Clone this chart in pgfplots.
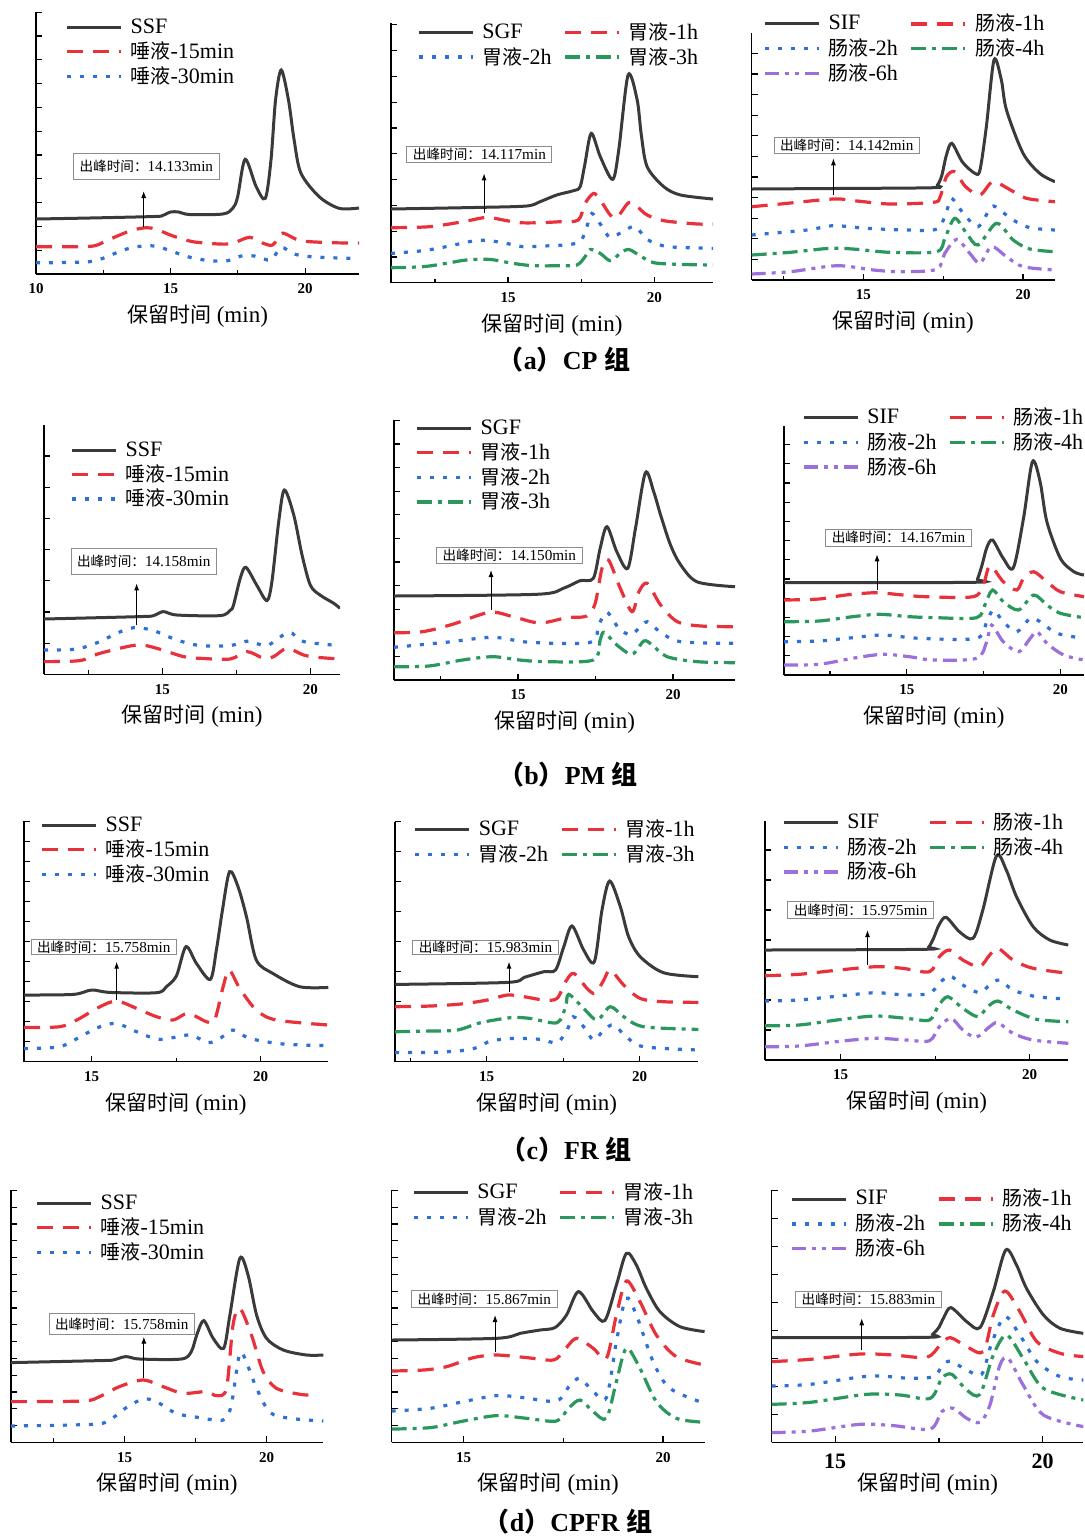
\documentclass[border=0pt]{standalone}
\usepackage{fontspec}
\setmainfont{Liberation Serif}
\newfontfamily\cjk{Noto Sans CJK SC}
\usepackage{pgfplots}
\pgfplotsset{compat=1.18}
\usetikzlibrary{arrows.meta}

\definecolor{c0}{HTML}{3A3A3A}
\definecolor{c1}{HTML}{E8313A}
\definecolor{c2}{HTML}{2F6FD8}
\definecolor{c3}{HTML}{2A975C}
\definecolor{c4}{HTML}{9B6FDC}

\newcommand\pk[1]{{\fontsize{6.8}{8}\selectfont\cjk 出峰时间：}#1min}
\newcommand\ty{{\fontsize{10}{12}\selectfont\cjk 唾液}}
\newcommand\wy{{\fontsize{10}{12}\selectfont\cjk 胃液}}
\newcommand\cy{{\fontsize{10}{12}\selectfont\cjk 肠液}}

\pgfplotsset{
  panel/.style={
    scale only axis, axis lines*=left, ymin=0, clip=true,
    axis line style={line width=0.7pt, black},
    tick align=inside, tick style={black, line width=0.6pt},
    major tick length=3pt, minor tick length=2pt,
    xtick={10,15,20}, minor xtick={12.5,17.5},
    yticklabels={},
    xticklabel style={font=\bfseries\fontsize{7.5}{8}\selectfont, yshift=-1.4pt},
    /pgf/number format/assume math mode=true,
    xlabel={{\fontsize{10.5}{12}\selectfont\cjk 保留时间} (min)},
    xlabel style={font=\fontsize{11.5}{12}\selectfont, at={(axis description cs:0.5,0)}, anchor=center, yshift=-21pt},
    legend style={draw=none, fill=none, font=\fontsize{11}{12}\selectfont, anchor=north west,
      inner sep=0pt, row sep=0.5pt, nodes={inner sep=1pt},
      /tikz/every odd column/.append style={column sep=3pt},
      /tikz/every even column/.append style={column sep=5pt}},
    legend cell align=left,
    legend image code/.code={\draw[##1] (0pt,0pt) -- (27pt,0pt);},
  },
  s0/.style={color=c0, line width=1.5pt, solid, smooth},
  s1/.style={color=c1, line width=1.6pt, dash pattern=on 8pt off 5pt, smooth},
  s2/.style={color=c2, line width=1.6pt, dash pattern=on 2pt off 4.5pt, smooth},
  s3/.style={color=c3, line width=1.6pt, dash pattern=on 7.5pt off 3pt on 2pt off 3pt, smooth},
  s4/.style={color=c4, line width=1.6pt, dash pattern=on 7pt off 3pt on 2pt off 3pt on 2pt off 3pt, smooth},
}
\tikzset{
  pbox/.style={draw=black!45, line width=0.5pt, fill=white, font=\fontsize{7.6}{8}\selectfont, inner xsep=3pt, inner ysep=1pt},
  parrow/.style={-{Latex[length=3.5pt,width=2.5pt]}, line width=0.5pt, black},
}

\begin{document}
\begin{tikzpicture}
\useasboundingbox (0,0) rectangle (542pt,-769pt);

% ---------------- (a) CP ----------------
\begin{axis}[panel, at={(18pt,-137pt)}, anchor=south west, width=161.5pt, height=131pt,
  xmin=10, xmax=22, ymax=262, ytick distance=23.8,
  legend style={at={(0.09,0.983)}}]
\addplot[s0] coordinates {(10,55) (12,56) (14.4,57.5) (14.7,58.5) (15,62) (15.3,62) (15.7,59.5) (16.94,60) (17.31,65.7) (17.49,77) (17.77,114.7) (18.18,87.3) (18.52,75.7) (18.73,114) (18.9,174) (19.11,204) (19.38,174) (19.59,134) (19.84,101) (20.52,77.3) (21.26,65.7) (22,66)};
\addplot[s1] coordinates {(10,27.3) (11.57,27.3) (12.19,28.3) (12.62,33.3) (13.11,39) (13.6,44) (14.1,46.3) (14.47,44.7) (15.09,38) (15.83,32.3) (16.81,30) (17.31,30.7) (17.93,36.7) (18.42,31) (18.79,29) (19.1,40) (19.28,40) (19.84,33.3) (21,31.3) (22,31)};
\addplot[s2] coordinates {(10,11.3) (10.64,11.3) (11.98,12.3) (12.59,16.7) (13.17,23.3) (13.75,27.3) (14.41,28) (14.99,23.3) (15.64,17.3) (16.44,13.3) (17.12,13.3) (17.62,18) (18.11,18) (18.73,14) (19.1,26.7) (19.59,20) (20.21,17.3) (21.57,15.7) (22,15.7)};
\legend{SSF, \ty-15min, \ty-30min}
\node[pbox, inner ysep=3.5pt] at (axis cs:14.1,107.5) {\pk{14.133}};
\draw[parrow] (axis cs:14.0,47) -- (axis cs:14.0,83);
\end{axis}

\begin{axis}[panel, at={(195.5pt,-141.35pt)}, anchor=south west, width=161pt, height=129.85pt,
  xmin=11, xmax=22, ymax=259.7, ytick distance=25.8,
  legend columns=2, legend style={at={(0.08,1.012)}}]
\addplot[s0] coordinates {(11,73.7) (14,75.3) (15.63,76.7) (16.09,81) (16.66,87.7) (17.23,92) (17.46,96) (17.62,118) (17.84,149.3) (18.15,126) (18.57,103.3) (18.78,132.7) (19.1,207.7) (19.41,182.7) (19.55,148) (19.75,116) (20.32,96) (20.89,87.7) (22,83.7)};
\addplot[s1] coordinates {(11,55) (12.31,56) (13.46,61) (14.26,65.3) (14.83,62.7) (15.4,60) (16.09,60) (16.77,61) (17.4,62.7) (17.63,79.3) (17.92,89.3) (18.15,82.7) (18.49,67.7) (18.72,65.3) (19.12,80) (19.41,76) (19.75,67.7) (20.32,62) (21.46,58.7) (22,58.7)};
\addplot[s2] coordinates {(11,29.3) (12.08,32) (12.88,36) (13.86,42) (14.37,42) (14.94,39.3) (15.51,36) (16.2,36.7) (16.89,37.7) (17.46,41) (17.69,56) (17.86,69.3) (18.15,58.7) (18.49,45.3) (19,52.7) (19.35,56) (19.75,43.3) (20.32,36.7) (20.89,35.3) (22,34.3)};
\addplot[s3] coordinates {(11,15) (12.08,16) (12.88,19.3) (13.57,22.7) (14.37,23.3) (15.17,19.3) (15.86,17) (16.77,17) (17.35,17.7) (17.63,26) (17.8,33.3) (18.15,29.3) (18.49,22) (18.83,29.3) (19.12,33.3) (19.52,26.7) (19.98,20) (20.89,18.3) (22,17.7)};
\legend{SGF, \wy-1h, \wy-2h, \wy-3h}
\node[pbox] at (axis cs:14.02,128.2) {\pk{14.117}};
\draw[parrow] (axis cs:14.18,69.3) -- (axis cs:14.18,109.3);
\end{axis}

\begin{axis}[panel, at={(375.85pt,-140pt)}, anchor=south west, width=151.65pt, height=123.35pt,
  xmin=11.5, xmax=21, ymax=246.7, ytick distance=20.6,
  legend columns=2, legend style={at={(0.037,1.088)}}]
\addplot[s0] coordinates {(11.5,91) (14,91.5) (17.19,92.3) (17.32,95) (17.45,104) (17.6,125) (17.77,136.7) (18.1,118) (18.49,106.7) (18.65,110) (18.85,153.3) (19.09,220) (19.32,200) (19.48,170) (20,126.7) (20.52,106.7) (21,98.3)};
\addplot[s1] coordinates {(11.5,73.3) (12.4,76) (14.06,81) (14.8,79) (15.83,76) (17.19,77.7) (17.4,83) (17.6,103.3) (17.86,108.3) (18.2,93.3) (18.65,85) (19.05,98.3) (19.57,90.7) (20.1,81.7) (21,78.3)};
\addplot[s2] coordinates {(11.5,45) (13.23,50) (14.06,54.3) (15.1,51.7) (16.35,50) (17.3,51) (17.6,68.3) (17.76,81.7) (18.13,66.7) (18.59,53.3) (19.01,73.3) (19.27,70) (19.69,60) (20.21,52.3) (21,50)};
\addplot[s3] coordinates {(11.5,25) (12.71,27.7) (13.96,31.7) (14.79,30.7) (15.83,27.7) (17.29,28.3) (17.55,41.7) (17.86,61.7) (18.23,46.7) (18.59,35) (19.17,56.7) (19.69,40) (20.21,31) (21,28.3)};
\addplot[s4] coordinates {(11.5,6) (12.71,8.3) (14.17,14.3) (15.31,10) (16.15,8.3) (17.29,10.7) (17.55,26.7) (17.92,40.7) (18.33,26.7) (18.65,16.7) (19.01,33.3) (19.48,23.3) (20,13.3) (21,10)};
\legend{SIF, \cy-1h, \cy-2h, \cy-4h, \cy-6h}
\node[pbox] at (axis cs:14.48,134.7) {\pk{14.142}};
\draw[parrow] (axis cs:14.06,85) -- (axis cs:14.06,121.7);
\end{axis}

\node[font=\bfseries\fontsize{13}{14}\selectfont] at (282pt,-180pt) {{\cjk （}a{\cjk ）}CP {\cjk 组}};

% ---------------- (b) PM ----------------
\begin{axis}[panel, at={(22pt,-337.15pt)}, anchor=south west, width=148pt, height=124.65pt,
  xmin=11, xmax=21, ymax=249.3, ytick distance=31.2,
  legend image code/.code={\draw[#1] (0pt,0pt) -- (22pt,0pt);},
  legend style={at={(0.088,0.943)}}]
\addplot[s0] coordinates {(11,55.3) (14.24,57.7) (14.7,58.7) (15.03,62.7) (15.49,59.3) (16.95,58.7) (17.29,64) (17.4,69) (17.63,96) (17.82,107) (18.19,89) (18.53,73.7) (18.7,92.7) (18.93,152.7) (19.12,184.3) (19.44,159) (19.72,119) (20,89) (20.34,79) (20.79,71) (21,66)};
\addplot[s1] coordinates {(11,12.7) (12.21,13.7) (12.89,21) (14.13,29.3) (14.81,26) (15.71,17.7) (16.28,16) (17.29,15.3) (17.86,22.7) (18.42,16) (18.76,17.7) (19.21,26) (19.77,19.3) (20.23,17) (21,15.3)};
\addplot[s2] coordinates {(11,24.3) (12.1,25.3) (12.89,32.7) (13.45,41) (14.05,46.7) (14.7,43.7) (15.49,34.3) (16.28,28.7) (17.29,28.7) (17.91,33.3) (18.53,28.7) (19.27,42) (19.77,32.7) (21,28.7)};
\legend{SSF, \ty-15min, \ty-30min}
\node[pbox, inner ysep=3.5pt] at (axis cs:14.37,113) {\pk{14.158}};
\draw[parrow] (axis cs:14.13,49.3) -- (axis cs:14.13,91);
\end{axis}

\begin{axis}[panel, at={(197pt,-340pt)}, anchor=south west, width=170.5pt, height=130pt,
  xmin=11, xmax=22, ymax=260, ytick distance=23.6,
  legend style={at={(0.062,1.01)}}]
\addplot[s0] coordinates {(11,84) (15.6,85.7) (16.46,91.7) (17,99.3) (17.43,101.7) (17.65,131.7) (17.87,153.3) (18.19,128) (18.54,111.7) (18.79,151.7) (19.11,207.3) (19.38,188) (19.6,165) (19.92,135) (20.25,115) (20.79,98) (22,93.3)};
\addplot[s1] coordinates {(11,47.3) (11.92,48.3) (12.89,55.7) (14.08,67.7) (14.84,63.3) (15.7,57) (16.57,62.3) (17.22,64) (17.49,76.7) (17.71,111.7) (17.92,120) (18.3,91.7) (18.68,68.3) (18.9,88.3) (19.17,96.7) (19.6,75) (20.14,58.3) (20.9,54) (22,53.3)};
\addplot[s2] coordinates {(11,32.7) (12.67,37.7) (14.19,42.7) (15.38,37.7) (17.33,37.7) (17.6,55) (17.87,67.7) (18.25,51.7) (18.62,45) (18.84,50) (19.17,58.3) (19.6,47.7) (20.25,38.3) (22,36.7)};
\addplot[s3] coordinates {(11,13.3) (12.13,14) (13.21,20) (14.19,23.3) (15.05,20) (15.92,18.3) (17.43,20) (17.65,40) (17.78,47.7) (18.19,35) (18.68,25.7) (19.06,39) (19.33,35) (19.81,23.3) (20.79,18.3) (22,17.3)};
\legend{SGF, \wy-1h, \wy-2h, \wy-3h}
\node[pbox] at (axis cs:14.72,124.7) {\pk{14.150}};
\draw[parrow] (axis cs:14.13,70) -- (axis cs:14.13,110);
\end{axis}

\begin{axis}[panel, at={(392pt,-337.5pt)}, anchor=south west, width=150pt, height=124.65pt,
  xmin=11, xmax=20.77, ymax=249.3, ytick distance=19.2,
  legend columns=2, legend style={at={(0.059,1.083)}}]
\addplot[s0] coordinates {(11,92.3) (17.16,92.7) (17.3,96) (17.45,110) (17.6,127) (17.79,135) (18.14,116.7) (18.47,107.3) (18.8,156.7) (19.09,213.3) (19.34,193.3) (19.56,153.3) (20,116.7) (20.44,103.3) (20.77,100)};
\addplot[s1] coordinates {(11,75) (12.14,76) (13.01,80) (13.99,82.3) (14.87,80) (15.63,78.3) (17.16,78.3) (17.49,90) (17.71,109.3) (18.14,93.3) (18.58,85) (18.8,96.7) (19.13,103.3) (19.56,93.3) (20,83.3) (20.77,78.3)};
\addplot[s2] coordinates {(11,33.3) (12.14,34) (13.23,37.3) (14.21,40) (15.41,36.7) (17.27,36.7) (17.6,53.3) (17.82,65) (18.14,53.3) (18.58,43.3) (19.02,56.7) (19.34,53.3) (19.89,41.7) (20.77,36.7)};
\addplot[s3] coordinates {(11,53.3) (12.14,54) (13.23,58.3) (14.1,60.7) (15.09,58.3) (15.96,57.3) (17.27,57.3) (17.54,70) (17.79,85) (18.14,73.3) (18.64,65) (19.13,80) (19.56,70) (20,61.7) (20.77,57.3)};
\addplot[s4] coordinates {(11,10) (12.14,10.7) (13.23,16.7) (14.21,20.7) (15.09,18.3) (15.85,15) (17.27,16.7) (17.6,33.3) (17.76,50) (18.14,33.3) (18.64,23.3) (19.02,36.7) (19.24,43.3) (19.56,31.7) (20.11,20) (20.77,15)};
\legend{SIF, \cy-1h, \cy-2h, \cy-4h, \cy-6h}
\node[pbox] at (axis cs:14.73,137.2) {\pk{14.167}};
\draw[parrow] (axis cs:14.03,85) -- (axis cs:14.03,120.7);
\end{axis}

\node[font=\bfseries\fontsize{13}{14}\selectfont] at (284pt,-387.5pt) {{\cjk （}b{\cjk ）}PM {\cjk 组}};

% ---------------- (c) FR ----------------
\begin{axis}[panel, at={(12pt,-530.85pt)}, anchor=south west, width=152.15pt, height=120.5pt,
  xmin=13, xmax=22, ymax=241, ytick distance=20,
  legend style={at={(0.053,1.026)}}]
\addplot[s0] coordinates {(13,66.7) (14.46,67.3) (15,71.7) (15.54,69.3) (16.92,69) (17.21,75) (17.51,86) (17.79,115) (18.1,98.3) (18.51,82.3) (18.69,111.7) (18.87,151.7) (19.08,190) (19.33,175) (19.58,145) (19.87,101.7) (20.36,88.3) (21.15,75) (22,74.3)};
\addplot[s1] coordinates {(13,34.3) (14.06,35) (14.56,41.7) (15.25,55) (15.74,60.7) (16.33,53.3) (16.92,45) (17.41,41.7) (17.85,48.3) (18.4,40) (18.64,41.7) (18.89,75) (19.07,91.7) (19.38,73.3) (19.87,51.7) (20.46,41.7) (22,36.7)};
\addplot[s2] coordinates {(13,13.3) (14.06,15) (14.75,26.7) (15.25,35) (15.74,38.3) (16.33,30) (17.02,22.3) (17.9,26.7) (18.45,19) (18.84,24.3) (19.18,31.7) (19.68,23.3) (20.66,17.7) (22,16)};
\legend{SSF, \ty-15min, \ty-30min}
\node[pbox, inner ysep=0.5pt] at (axis cs:15.36,114.7) {\pk{15.758}};
\draw[parrow] (axis cs:15.74,61.7) -- (axis cs:15.74,100);
\end{axis}

\begin{axis}[panel, at={(197.5pt,-530.85pt)}, anchor=south west, width=151.65pt, height=120pt,
  xmin=12, xmax=21.92, ymax=240, ytick distance=30,
  legend columns=2, legend style={at={(0.06,1.02)}}]
\addplot[s0] coordinates {(12,77.3) (15.67,79.3) (16.22,84.3) (16.87,90) (17.25,91.7) (17.52,115) (17.79,135.7) (18.17,111.7) (18.52,100) (18.77,151.7) (19.02,180.7) (19.37,155) (19.64,125) (20.02,105) (20.78,89) (21.92,85)};
\addplot[s1] coordinates {(12,55) (13.17,55.7) (14.15,57.7) (15.02,61.7) (15.67,66.7) (16.22,65) (16.87,61.7) (17.3,63.3) (17.58,80) (17.85,88.3) (18.28,73.3) (18.55,68.3) (18.83,81.7) (19.04,91.7) (19.48,76.7) (20.02,63.3) (20.78,60) (21.92,59.3)};
\addplot[s2] coordinates {(12,9.3) (13.17,9.3) (14.15,11) (14.7,14.3) (15.13,20.7) (15.9,23.3) (16.76,22.3) (17.3,19) (17.63,31.7) (17.83,45) (18.17,35) (18.5,21.7) (18.83,31.7) (19.15,36.7) (19.59,24.3) (20.13,15) (21.92,11.7)};
\addplot[s3] coordinates {(12,30) (13.17,30.7) (14.04,31.7) (14.8,39) (15.78,44) (16.43,43.3) (17.3,39) (17.58,55) (17.68,67.3) (18.17,53.3) (18.61,41.7) (19.04,55) (19.48,45) (20.13,35) (21.92,32.3)};
\legend{SGF, \wy-1h, \wy-2h, \wy-3h}
\node[pbox, inner ysep=0.5pt] at (axis cs:14.96,114.2) {\pk{15.983}};
\draw[parrow] (axis cs:15.73,70) -- (axis cs:15.73,100);
\end{axis}

\begin{axis}[panel, at={(382.5pt,-530pt)}, anchor=south west, width=151.65pt, height=119.65pt,
  xmin=13, xmax=21.02, ymax=239.3, ytick distance=30,
  legend columns=2, legend style={at={(0.055,1.045)}}]
\addplot[s0] coordinates {(13,110) (17.21,110.7) (17.33,113) (17.45,121) (17.6,135) (17.79,142.7) (18.14,128.3) (18.5,121.7) (18.76,150) (19.12,204) (19.38,190) (19.65,163.3) (20.09,133.3) (20.53,120) (21.02,115)};
\addplot[s1] coordinates {(13,84.3) (13.9,85.7) (14.78,89.3) (15.93,93.3) (16.64,91.7) (17.35,88.3) (17.61,103.3) (17.88,110) (18.23,100) (18.67,93.3) (18.94,105) (19.16,111.7) (19.56,100) (20.09,91.7) (21.02,86.7)};
\addplot[s2] coordinates {(13,59) (13.9,60) (15.04,64.3) (15.93,67.3) (16.73,65) (17.35,66.7) (17.61,76.7) (17.88,84.3) (18.23,75) (18.67,67.3) (18.94,75) (19.2,80) (19.56,70) (20.18,63.3) (21.02,61)};
\addplot[s3] coordinates {(13,34.3) (13.9,35) (15.04,40.7) (15.93,44) (16.73,41.7) (17.35,40) (17.57,53.3) (17.83,63.3) (18.23,51.7) (18.63,43.3) (18.89,53.3) (19.16,59) (19.56,50) (20.18,40.7) (21.02,38.3)};
\addplot[s4] coordinates {(13,13.3) (13.9,14) (15.04,19) (15.93,21.7) (16.73,20) (17.35,19.3) (17.61,33.3) (17.92,41.7) (18.23,30) (18.58,22.7) (18.94,33.3) (19.16,37.3) (19.56,26.7) (20.09,20) (21.02,16.7)};
\legend{SIF, \cy-1h, \cy-2h, \cy-4h, \cy-6h}
\node[pbox] at (axis cs:15.53,150) {\pk{15.975}};
\draw[parrow] (axis cs:15.71,95) -- (axis cs:15.71,130);
\end{axis}

\node[font=\bfseries\fontsize{13}{14}\selectfont] at (283pt,-575pt) {{\cjk （}c{\cjk ）}FR {\cjk 组}};

% ---------------- (d) CPFR ----------------
\begin{axis}[panel, at={(5.5pt,-721.15pt)}, anchor=south west, width=156.15pt, height=126.15pt,
  xmin=11, xmax=22, ymax=252.3, ytick distance=16.8,
  legend style={at={(0.077,0.99)}}]
\addplot[s0] coordinates {(11,79.7) (14.12,81.7) (14.59,82.3) (15.04,85.7) (15.53,83.3) (17,83.3) (17.35,90.7) (17.55,108) (17.79,121.7) (18.12,104) (18.49,94) (18.71,127.3) (19.06,184) (19.35,167.3) (19.65,127.3) (20,104) (20.59,92.3) (21.41,87.3) (22,87.3)};
\addplot[s1] coordinates {(11,40.7) (13.53,41.3) (14.12,45.7) (14.82,55.7) (15.65,62.3) (16.35,55.7) (17.06,49) (17.88,50.7) (18.24,46.7) (18.59,54) (18.82,117.3) (19.06,134) (19.47,107.3) (19.88,70.7) (20.35,54) (21.18,48) (21.59,47.3)};
\addplot[s2] coordinates {(11,16.3) (13.88,18) (14.47,22.3) (15.06,34.7) (15.65,43.3) (16.12,40.7) (16.82,29) (17.65,24.7) (18.47,22.3) (18.76,37.3) (19.06,89) (19.35,75.7) (19.65,54) (20.12,30) (20.82,24) (22,21.3)};
\legend{SSF, \ty-15min, \ty-30min}
\node[pbox, inner ysep=2.3pt] at (axis cs:14.9,118.2) {\pk{15.758}};
\draw[parrow] (axis cs:15.68,64) -- (axis cs:15.68,105.7);
\end{axis}

\begin{axis}[panel, at={(195.85pt,-721.15pt)}, anchor=south west, width=156.65pt, height=126.15pt,
  xmin=13.2, xmax=21.05, ymax=252.3, ytick distance=16.8,
  legend columns=2, legend style={at={(0.064,1.04)}}]
\addplot[s0] coordinates {(13.2,102.3) (15.83,104) (16.42,109) (16.92,112.3) (17.29,114.7) (17.58,127.3) (17.88,150.7) (18.25,130.7) (18.54,121.7) (18.83,157.3) (19.08,189) (19.33,177.3) (19.58,154) (19.92,130.7) (20.42,115.7) (21.04,110.7)};
\addplot[s1] coordinates {(13.2,71.3) (14,72.3) (14.58,75.7) (15.25,84.7) (15.83,87.3) (16.58,84.7) (17.25,82.3) (17.5,91) (17.83,104) (18.25,94) (18.58,84) (18.83,127.3) (19.08,161.3) (19.42,140.7) (19.83,107.3) (20.33,85.7) (21.04,77.3)};
\addplot[s2] coordinates {(13.2,31.3) (14.17,34) (15,40.7) (15.83,46.7) (16.5,44.7) (17.33,41.3) (17.67,57.3) (17.92,64) (18.25,50.7) (18.58,44.7) (18.83,100.7) (19.07,144) (19.33,127.3) (19.75,80.7) (20.17,54) (21.04,39)};
\addplot[s3] coordinates {(13.2,13.3) (14.17,14.7) (15,21.3) (15.83,26.7) (16.58,24) (17.33,21.3) (17.63,34) (17.92,42.3) (18.25,30.7) (18.58,24) (18.83,60.7) (19.08,94) (19.42,74) (19.83,40.7) (20.33,24) (21.04,20)};
\legend{SGF, \wy-1h, \wy-2h, \wy-3h}
\node[pbox] at (axis cs:15.52,143.2) {\pk{15.867}};
\draw[parrow] (axis cs:15.79,90.7) -- (axis cs:15.79,127.3);
\end{axis}

\begin{axis}[panel, at={(385.85pt,-721.15pt)}, anchor=south west, width=155.8pt, height=126.15pt,
  xmin=13.47, xmax=20.98, ymax=252.3, ytick distance=28,
  xticklabel style={font=\bfseries\fontsize{11}{12}\selectfont, yshift=-0.7pt},
  legend columns=2, legend style={at={(0.059,1.013)}}]
\addplot[s0] coordinates {(13.47,104.7) (17.21,105) (17.35,108) (17.5,115) (17.62,125) (17.79,134.7) (18.17,120.7) (18.49,114.7) (18.81,150.7) (19.11,192.3) (19.37,177.3) (19.61,154) (20.02,127.3) (20.42,114) (20.98,109)};
\addplot[s1] coordinates {(13.47,80.7) (14.4,83) (15.6,88.3) (16.4,87.3) (17.21,85) (17.53,97.3) (17.77,104.7) (18.17,95.7) (18.57,90.7) (18.81,127.3) (19.09,151.3) (19.45,130.7) (19.86,100.7) (20.42,89) (20.98,85.7)};
\addplot[s2] coordinates {(13.47,56.3) (14.4,58) (15.84,66.3) (16.8,64) (17.37,65.7) (17.57,75.7) (17.77,81.3) (18.17,72.3) (18.53,68) (18.77,99) (19.09,125.7) (19.45,107.3) (19.86,80.7) (20.42,65.7) (20.98,62.3)};
\addplot[s3] coordinates {(13.47,38) (14.4,40) (15.76,48) (16.57,47.3) (17.29,44) (17.57,64) (17.81,68) (18.17,52.3) (18.49,48) (18.81,87.3) (19.13,107.3) (19.53,84) (20.02,54) (20.98,42.3)};
\addplot[s4] coordinates {(13.47,9.7) (14.4,11.3) (15.6,18) (16.4,16.7) (17.29,13.3) (17.57,30.7) (17.85,34) (18.17,24) (18.49,20) (18.73,37.3) (18.97,77.3) (19.17,84) (19.53,57.3) (20.02,27.3) (20.98,15.7)};
\legend{SIF, \cy-1h, \cy-2h, \cy-4h, \cy-6h}
\node[pbox] at (axis cs:15.8,142.8) {\pk{15.883}};
\draw[parrow] (axis cs:15.64,92.3) -- (axis cs:15.64,124);
\end{axis}

\node[font=\bfseries\fontsize{13}{14}\selectfont] at (284pt,-761pt) {{\cjk （}d{\cjk ）}CPFR {\cjk 组}};
\end{tikzpicture}
\end{document}
